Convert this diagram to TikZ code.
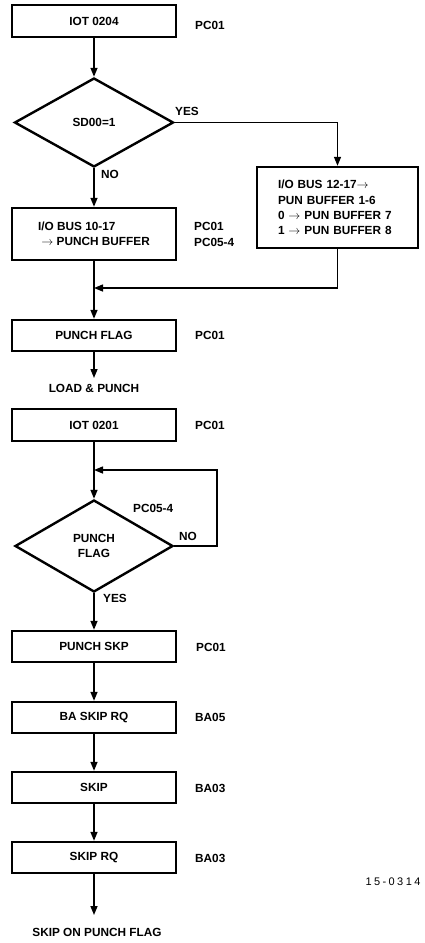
\documentclass[tikz,border=0pt]{standalone}
\usepackage{fontspec}
\setmainfont{Liberation Sans}
\newfontfamily\tagfont[LetterSpace=22]{Liberation Sans}
\usetikzlibrary{arrows.meta,shapes.geometric}
\begin{document}
\begin{tikzpicture}[x=1pt,y=-1pt,
  every node/.style={font=\bfseries\fontsize{11.8}{15.2}\selectfont},
  box/.style={draw,line width=2.4pt,rectangle,minimum width=164pt,inner sep=0pt},
  dia/.style={draw,line width=2.4pt,diamond,inner sep=0pt,align=center},
  lab/.style={anchor=west,inner sep=0pt},
  arr/.style={line width=1.4pt,-{Triangle[length=9pt,width=7pt]}}]
\useasboundingbox (0,0) rectangle (425,943);
% first part
\node[box,minimum height=32pt] (b1) at (94,21) {IOT 0204};
\node[lab] (l1) at (195,25) {PC01};
\node[dia,minimum width=159pt,minimum height=89pt] (d1) at (94,122.5) {SD00=1};
\node[lab] (yes1) at (175,111) {YES};
\node[lab] (no1) at (101,174) {NO};
\node[box,minimum width=161pt,minimum height=81pt,align=left,text width=119pt] (rb) at (337.5,207.5)
  {I/O BUS 12-17$\rightarrow$\\PUN BUFFER 1-6\\0 $\rightarrow$ PUN BUFFER 7\\1 $\rightarrow$ PUN BUFFER 8};
\node[box,minimum height=52pt,align=left] (lb) at (94,234) {I/O BUS 10-17\\\ $\rightarrow$ PUNCH BUFFER};
\node[lab,align=left] (l2) at (194,234.5) {PC01\\PC05-4};
\coordinate (j1) at (94,288);
\node[box,minimum height=31pt] (pf) at (94,335.5) {PUNCH FLAG};
\node[lab] (l3) at (195,335.5) {PC01};
\coordinate (e1) at (94,378);
\node (lp1) at (94,388) {LOAD \& PUNCH};
% second part
\node[box,minimum height=32pt] (b2) at (94,425) {IOT 0201};
\node[lab] (l4) at (195,425) {PC01};
\coordinate (j2) at (94,470);
\node[dia,minimum width=158pt,minimum height=92pt] (d2) at (94,546) {PUNCH\\FLAG};
\coordinate (lp) at (217,470);
\node[lab] (pc54) at (133,508) {PC05-4};
\node[lab] (no2) at (179,536) {NO};
\node[lab] (yes2) at (103,598.5) {YES};
\node[box,minimum height=31pt] (ps) at (94,646.5) {PUNCH SKP};
\node[lab] (l5) at (196,647) {PC01};
\node[box,minimum height=31pt] (ba) at (94,717.5) {BA SKIP RQ};
\node[lab] (l6) at (195,717.5) {BA05};
\node[box,minimum height=31pt] (sk) at (94,787.5) {SKIP};
\node[lab] (l7) at (195,788) {BA03};
\node[box,minimum height=31pt] (sr) at (94,857.5) {SKIP RQ};
\node[lab] (l8) at (195,858) {BA03};
\coordinate (e2) at (94,915);
\node (sop) at (97,932) {SKIP ON PUNCH FLAG};
\node[font=\tagfont\fontsize{11}{12}\selectfont] (tag) at (393,882) {15-0314};
% connectors
\draw[arr] (b1.south) -- (d1.north);
\draw[arr] (d1.east) -| (rb.north);
\draw[arr] (d1.south) -- (lb.north);
\draw[arr] (lb.south) -- (pf.north);
\draw[arr] (rb.south) |- (j1);
\draw[arr] (pf.south) -- (e1);
\draw[arr] (b2.south) -- (d2.north);
\draw[arr] (d2.east) -| (lp) -- (j2);
\draw[arr] (d2.south) -- (ps.north);
\draw[arr] (ps.south) -- (ba.north);
\draw[arr] (ba.south) -- (sk.north);
\draw[arr] (sk.south) -- (sr.north);
\draw[arr] (sr.south) -- (e2);
\end{tikzpicture}
\end{document}
